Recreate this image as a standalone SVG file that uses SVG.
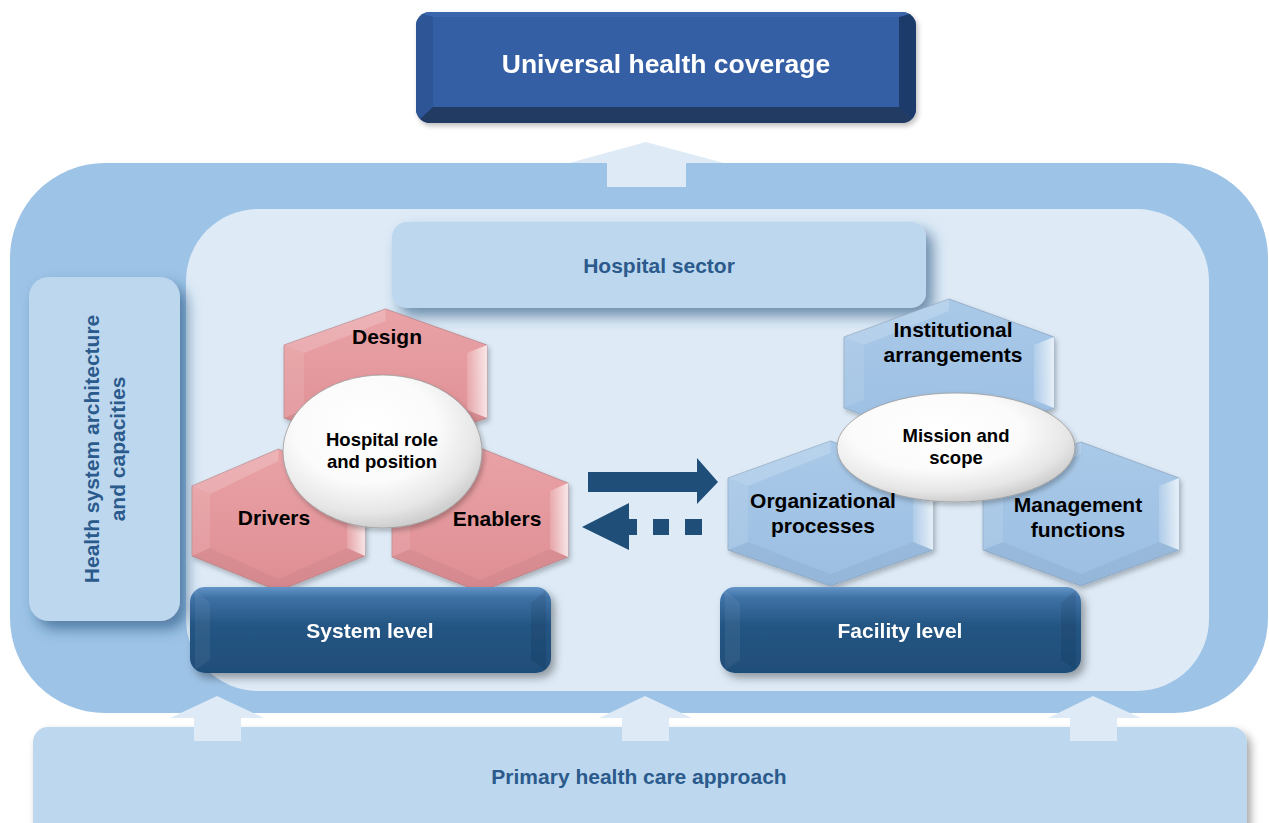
<svg xmlns="http://www.w3.org/2000/svg" width="1269" height="823" viewBox="0 0 1269 823">
  <defs>
    <style>
      .lbl { font-family: "Liberation Sans", Arial, sans-serif; font-weight: bold; text-anchor: middle; }
      .dark { fill: #2b5a8c; font-size: 21px; }
      .white { fill: #ffffff; font-size: 21px; }
      .black { fill: #000000; font-size: 21px; }
      .core { fill: #000000; font-size: 18.5px; }
      .panel { fill: #bdd7ee; }
      .lift { fill: #deebf7; }
      .flow { fill: #1f4e79; }
      .hexline { stroke-width: 0.8; stroke-linejoin: round; }
    </style>
    <filter id="shBlue" x="-15%" y="-25%" width="140%" height="170%">
      <feDropShadow dx="7" dy="8" stdDeviation="7" flood-color="#1f4e79" flood-opacity="0.6"/>
    </filter>
    <filter id="shGray" x="-10%" y="-20%" width="125%" height="150%">
      <feDropShadow dx="4" dy="5" stdDeviation="4" flood-color="#000000" flood-opacity="0.35"/>
    </filter>
    <filter id="shSoft" x="-10%" y="-10%" width="125%" height="130%">
      <feDropShadow dx="2" dy="3" stdDeviation="2.5" flood-color="#000000" flood-opacity="0.25"/>
    </filter>
    <linearGradient id="pinkFace" x1="0" y1="0" x2="0" y2="1">
      <stop offset="0" stop-color="#e9a2a6"/>
      <stop offset="1" stop-color="#de8e93"/>
    </linearGradient>
    <linearGradient id="blueFace" x1="0" y1="0" x2="0" y2="1">
      <stop offset="0" stop-color="#a9c9e8"/>
      <stop offset="1" stop-color="#9bbee2"/>
    </linearGradient>
    <linearGradient id="shineR" x1="0" y1="0" x2="1" y2="0">
      <stop offset="0" stop-color="#ffffff" stop-opacity="0.15"/>
      <stop offset="1" stop-color="#ffffff" stop-opacity="0.75"/>
    </linearGradient>
    <radialGradient id="pearl" cx="0.42" cy="0.35" r="0.65">
      <stop offset="0" stop-color="#ffffff"/>
      <stop offset="0.55" stop-color="#fbfbfb"/>
      <stop offset="0.85" stop-color="#e6e6e6"/>
      <stop offset="1" stop-color="#cfcfcf"/>
    </radialGradient>
    <linearGradient id="levelFill" x1="0" y1="0" x2="0" y2="1">
      <stop offset="0" stop-color="#6495c8"/>
      <stop offset="0.12" stop-color="#3f72a6"/>
      <stop offset="0.45" stop-color="#245583"/>
      <stop offset="1" stop-color="#1f4e79"/>
    </linearGradient>
    <clipPath id="uhcClip">
      <rect x="416" y="12" width="500" height="111" rx="14"/>
    </clipPath>
  </defs>

  <!-- containers -->
  <g id="health-system">
    <rect x="10" y="163" width="1258" height="550" rx="95" fill="#9dc3e6"/>
  </g>
  <g id="hospital-area">
    <rect x="186" y="209" width="1023" height="482" rx="72" fill="#deebf7"/>
  </g>

  <!-- primary health care -->
  <g id="primary-health-care">
    <rect class="panel" x="33" y="727" width="1214" height="120" rx="15" filter="url(#shGray)"/>
    <text class="lbl dark" x="639" y="784">Primary health care approach</text>
  </g>

  <!-- connectors -->
  <g id="connectors">
    <!-- up arrow towards universal coverage -->
    <polygon class="lift" points="607,187 607,163 569,163 646,142 724,163 686,163 686,187"/>
    <!-- up arrows from primary health care -->
    <polygon class="lift" points="194,741 194,718 170,718 217,696 264,718 241,718 241,741"/>
    <polygon class="lift" points="622,741 622,718 599,718 645,696 692,718 669,718 669,741"/>
    <polygon class="lift" points="1070,741 1070,718 1048,718 1093,696 1141,718 1117,718 1117,741"/>
    <!-- system to facility -->
    <polygon class="flow" points="588,472 697,472 697,458 718,482 697,504 697,492 588,492"/>
    <!-- facility back to system (dotted) -->
    <polygon class="flow" points="582,527 629,503 629,519 637,519 637,535 629,535 629,550"/>
    <rect class="flow" x="653" y="519" width="16" height="16"/>
    <rect class="flow" x="685" y="519" width="17" height="16"/>
  </g>

  <!-- top goal -->
  <g id="universal-health-coverage" filter="url(#shSoft)">
    <g clip-path="url(#uhcClip)">
      <rect x="416" y="12" width="500" height="111" fill="#2d5190"/>
      <polygon points="416,12 433,17 433,107 416,123" fill="#2f5595"/>
      <polygon points="916,12 899,17 899,107 916,123" fill="#1f3a6b"/>
      <polygon points="416,123 433,107 899,107 916,123" fill="#243a63"/>
      <polygon points="416,12 916,12 899,17 433,17" fill="#3b66ad"/>
      <rect x="433" y="17" width="466" height="90" fill="#365fa5"/>
    </g>
    <text class="lbl" x="666" y="73" fill="#ffffff" font-size="26.5">Universal health coverage</text>
  </g>

  <!-- side panel -->
  <g id="architecture">
    <rect class="panel" x="29" y="277" width="151" height="344" rx="20" filter="url(#shBlue)"/>
    <text class="lbl dark" transform="translate(99,449) rotate(-90)">Health system architecture</text>
    <text class="lbl dark" transform="translate(125,449) rotate(-90)">and capacities</text>
  </g>

  <!-- hospital sector -->
  <g id="hospital-sector">
    <rect class="panel" x="392" y="222" width="534" height="86" rx="15" filter="url(#shBlue)"/>
    <text class="lbl dark" x="659" y="273">Hospital sector</text>
  </g>

  <!-- system level hexagons -->
  <g id="design" filter="url(#shSoft)">
    <polygon class="hexline" points="385.5,309 487,345 487,418 385.5,454 284,418 284,345" fill="url(#pinkFace)" stroke="#b7868a"/>
    <polygon points="385.5,309 284,345 304,353 385.5,321" fill="#ffffff" opacity="0.18"/>
    <polygon points="284,345 304,353 304,410 284,418" fill="#ffffff" opacity="0.1"/>
    <polygon points="487,345 487,418 467,410 467,353" fill="url(#shineR)"/>
    <polygon points="385.5,454 284,418 304,410 385.5,442 467,410 487,418" fill="#000000" opacity="0.05"/>
  </g>
  <g id="drivers" filter="url(#shSoft)">
    <polygon class="hexline" points="278.5,449 365,486 365,556 278.5,591 192,556 192,486" fill="url(#pinkFace)" stroke="#b7868a"/>
    <polygon points="278.5,449 192,486 210,494 278.5,461" fill="#ffffff" opacity="0.18"/>
    <polygon points="192,486 210,494 210,548 192,556" fill="#ffffff" opacity="0.1"/>
    <polygon points="365,486 365,556 347,548 347,494" fill="url(#shineR)"/>
    <polygon points="278.5,591 192,556 210,548 278.5,579 347,548 365,556" fill="#000000" opacity="0.04"/>
  </g>
  <g id="enablers" filter="url(#shSoft)">
    <polygon class="hexline" points="480,448 568,483 568,557 480,592 392,557 392,483" fill="url(#pinkFace)" stroke="#b7868a"/>
    <polygon points="480,448 392,483 410,491 480,460" fill="#ffffff" opacity="0.18"/>
    <polygon points="392,483 410,491 410,549 392,557" fill="#ffffff" opacity="0.1"/>
    <polygon points="568,483 568,557 550,549 550,491" fill="url(#shineR)"/>
    <polygon points="480,592 392,557 410,549 480,580 550,549 568,557" fill="#000000" opacity="0.04"/>
  </g>
  <g id="hospital-role" filter="url(#shSoft)">
    <ellipse cx="382.5" cy="451.5" rx="99.5" ry="76.5" fill="url(#pearl)" stroke="#9a9a9a" stroke-width="0.8"/>
  </g>

  <!-- facility level hexagons -->
  <g id="institutional" filter="url(#shSoft)">
    <polygon class="hexline" points="949,299 1054,337 1054,408 949,446 844,408 844,337" fill="url(#blueFace)" stroke="#8ea7c2"/>
    <polygon points="949,299 844,337 864,345 949,311" fill="#ffffff" opacity="0.18"/>
    <polygon points="844,337 864,345 864,400 844,408" fill="#ffffff" opacity="0.1"/>
    <polygon points="1054,337 1054,408 1034,400 1034,345" fill="url(#shineR)"/>
  </g>
  <g id="organizational" filter="url(#shSoft)">
    <polygon class="hexline" points="830.5,441 933,478 933,550 830.5,586 728,550 728,478" fill="url(#blueFace)" stroke="#8ea7c2"/>
    <polygon points="830.5,441 728,478 748,486 830.5,453" fill="#ffffff" opacity="0.18"/>
    <polygon points="728,478 748,486 748,542 728,550" fill="#ffffff" opacity="0.1"/>
    <polygon points="933,478 933,550 913,542 913,486" fill="url(#shineR)"/>
    <polygon points="830.5,586 728,550 748,542 830.5,574 913,542 933,550" fill="#000000" opacity="0.04"/>
  </g>
  <g id="management" filter="url(#shSoft)">
    <polygon class="hexline" points="1081,442 1179,478 1179,550 1081,586 983,550 983,478" fill="url(#blueFace)" stroke="#8ea7c2"/>
    <polygon points="1081,442 983,478 1003,486 1081,454" fill="#ffffff" opacity="0.18"/>
    <polygon points="983,478 1003,486 1003,542 983,550" fill="#ffffff" opacity="0.1"/>
    <polygon points="1179,478 1179,550 1159,542 1159,486" fill="url(#shineR)"/>
    <polygon points="1081,586 983,550 1003,542 1081,574 1159,542 1179,550" fill="#000000" opacity="0.04"/>
  </g>
  <g id="mission" filter="url(#shSoft)">
    <ellipse cx="956" cy="447.5" rx="119" ry="54.5" fill="url(#pearl)" stroke="#9a9a9a" stroke-width="0.8"/>
  </g>

  <!-- level bars -->
  <g id="system-level" filter="url(#shGray)">
    <rect x="190" y="587" width="361" height="86" rx="15" fill="url(#levelFill)"/>
    <polygon points="195,590 210,603 210,660 195,670" fill="#ffffff" opacity="0.06"/>
    <polygon points="546,590 531,603 531,660 546,670" fill="#000000" opacity="0.08"/>
    <text class="lbl white" x="370" y="638">System level</text>
  </g>
  <g id="facility-level" filter="url(#shGray)">
    <rect x="720" y="587" width="361" height="86" rx="15" fill="url(#levelFill)"/>
    <polygon points="725,590 740,603 740,660 725,670" fill="#ffffff" opacity="0.06"/>
    <polygon points="1076,590 1061,603 1061,660 1076,670" fill="#000000" opacity="0.08"/>
    <text class="lbl white" x="900" y="638">Facility level</text>
  </g>

  <!-- labels on hexagons and hubs -->
  <g id="system-labels">
    <text class="lbl black" x="387" y="344">Design</text>
    <text class="lbl black" x="274" y="525">Drivers</text>
    <text class="lbl black" x="497" y="526">Enablers</text>
    <text class="lbl core" x="382" y="446">Hospital role</text>
    <text class="lbl core" x="382" y="468">and position</text>
  </g>
  <g id="facility-labels">
    <text class="lbl black" x="953" y="337">Institutional</text>
    <text class="lbl black" x="953" y="362">arrangements</text>
    <text class="lbl black" x="823" y="508">Organizational</text>
    <text class="lbl black" x="823" y="533">processes</text>
    <text class="lbl black" x="1078" y="512">Management</text>
    <text class="lbl black" x="1078" y="537">functions</text>
    <text class="lbl core" x="956" y="442">Mission and</text>
    <text class="lbl core" x="956" y="464">scope</text>
  </g>
</svg>
